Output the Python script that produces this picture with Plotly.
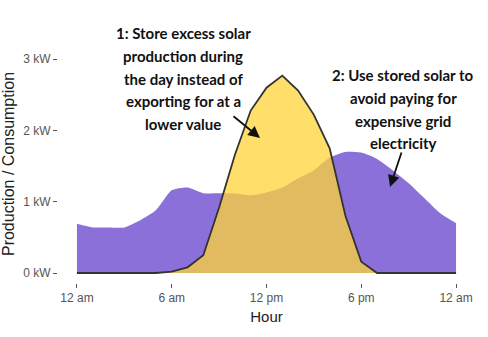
import plotly.graph_objects as go

hours = list(range(25))
consumption = [0.69, 0.64, 0.64, 0.64, 0.74, 0.88, 1.16, 1.20, 1.12, 1.12, 1.12, 1.09,
               1.13, 1.20, 1.33, 1.44, 1.62, 1.70, 1.69, 1.60, 1.44, 1.26, 1.05, 0.84, 0.70]
production = [0, 0, 0, 0, 0, 0, 0.02, 0.08, 0.25, 0.92, 1.66, 2.28,
              2.60, 2.77, 2.56, 2.22, 1.75, 0.80, 0.16, 0, 0, 0, 0, 0, 0]
tick_vals_x = [0, 6, 12, 18, 24]
tick_text_x = ["12 am", "6 am", "12 pm", "6 pm", "12 am"]
tick_vals_y = [0, 1, 2, 3]
tick_text_y = ["0 kW", "1 kW", "2 kW", "3 kW"]
note1_lines = ["1: Store excess solar", "production during", "the day instead of",
               "exporting for at a", "lower value"]
note2_lines = ["2: Use stored solar to", "avoid paying for", "expensive grid", "electricity"]

fig = go.Figure()
fig.add_trace(go.Scatter(x=hours, y=consumption, mode="lines", fill="tozeroy",
                         fillcolor="#8a70d8",
                         line=dict(width=0, color="#8a70d8", shape="spline", smoothing=0.6),
                         hoverinfo="skip"))
fig.add_trace(go.Scatter(x=hours, y=production, mode="lines", fill="tozeroy",
                         fillcolor="rgba(255,212,56,0.75)",
                         line=dict(width=1.8, color="#333333"),
                         hoverinfo="skip"))

ann_font = dict(family="Lato", size=15, color="#111111")


def px_x(px):
    return (px - 58) / (475 - 58)


def px_y(py):
    return (283 - py) / (283 - 45)


for i, line in enumerate(note1_lines):
    fig.add_annotation(xref="paper", yref="paper", x=px_x(183), y=px_y(33 + 22.75 * i),
                       xanchor="center", yanchor="middle", showarrow=False,
                       text="<b>" + line + "</b>", font=ann_font)
for i, line in enumerate(note2_lines):
    fig.add_annotation(xref="paper", yref="paper", x=px_x(403), y=px_y(75 + 22.75 * i),
                       xanchor="center", yanchor="middle", showarrow=False,
                       text="<b>" + line + "</b>", font=ann_font)
# arrows
fig.add_annotation(xref="paper", yref="paper",
                   x=px_x(260), y=px_y(138), ax=-28, ay=-23,
                   text="", showarrow=True, arrowhead=2, arrowsize=1.3, arrowwidth=1.8,
                   arrowcolor="#111111")
fig.add_annotation(xref="paper", yref="paper",
                   x=px_x(390), y=px_y(187), ax=12, ay=-36,
                   text="", showarrow=True, arrowhead=2, arrowsize=1.3, arrowwidth=1.8,
                   arrowcolor="#111111")

fig.update_layout(
    width=488, height=337,
    margin=dict(l=58, r=13, t=45, b=54, autoexpand=False),
    plot_bgcolor="white", paper_bgcolor="white",
    showlegend=False,
    font=dict(family="Liberation Sans, Arial", color="#555555"),
    xaxis=dict(range=[-1.2, 25.2], tickvals=tick_vals_x, ticktext=tick_text_x,
               showgrid=False, zeroline=False, showline=False, automargin=False,
               ticks="outside", ticklen=4, tickwidth=1, tickcolor="#555555",
               tickfont=dict(size=12, color="#555555"),
               title=dict(text="Hour", font=dict(size=15, color="#222222"), standoff=7),
               fixedrange=True),
    yaxis=dict(range=[-0.14, 3.2], tickvals=tick_vals_y, ticktext=tick_text_y,
               showgrid=False, zeroline=False, showline=False, automargin=False,
               ticks="outside", ticklen=4, tickwidth=1, tickcolor="#555555",
               tickfont=dict(size=12, color="#555555"),
               title=dict(text="Production / Consumption", font=dict(size=16, color="#222222"), standoff=4),
               fixedrange=True),
)

fig.write_html("out.html")
